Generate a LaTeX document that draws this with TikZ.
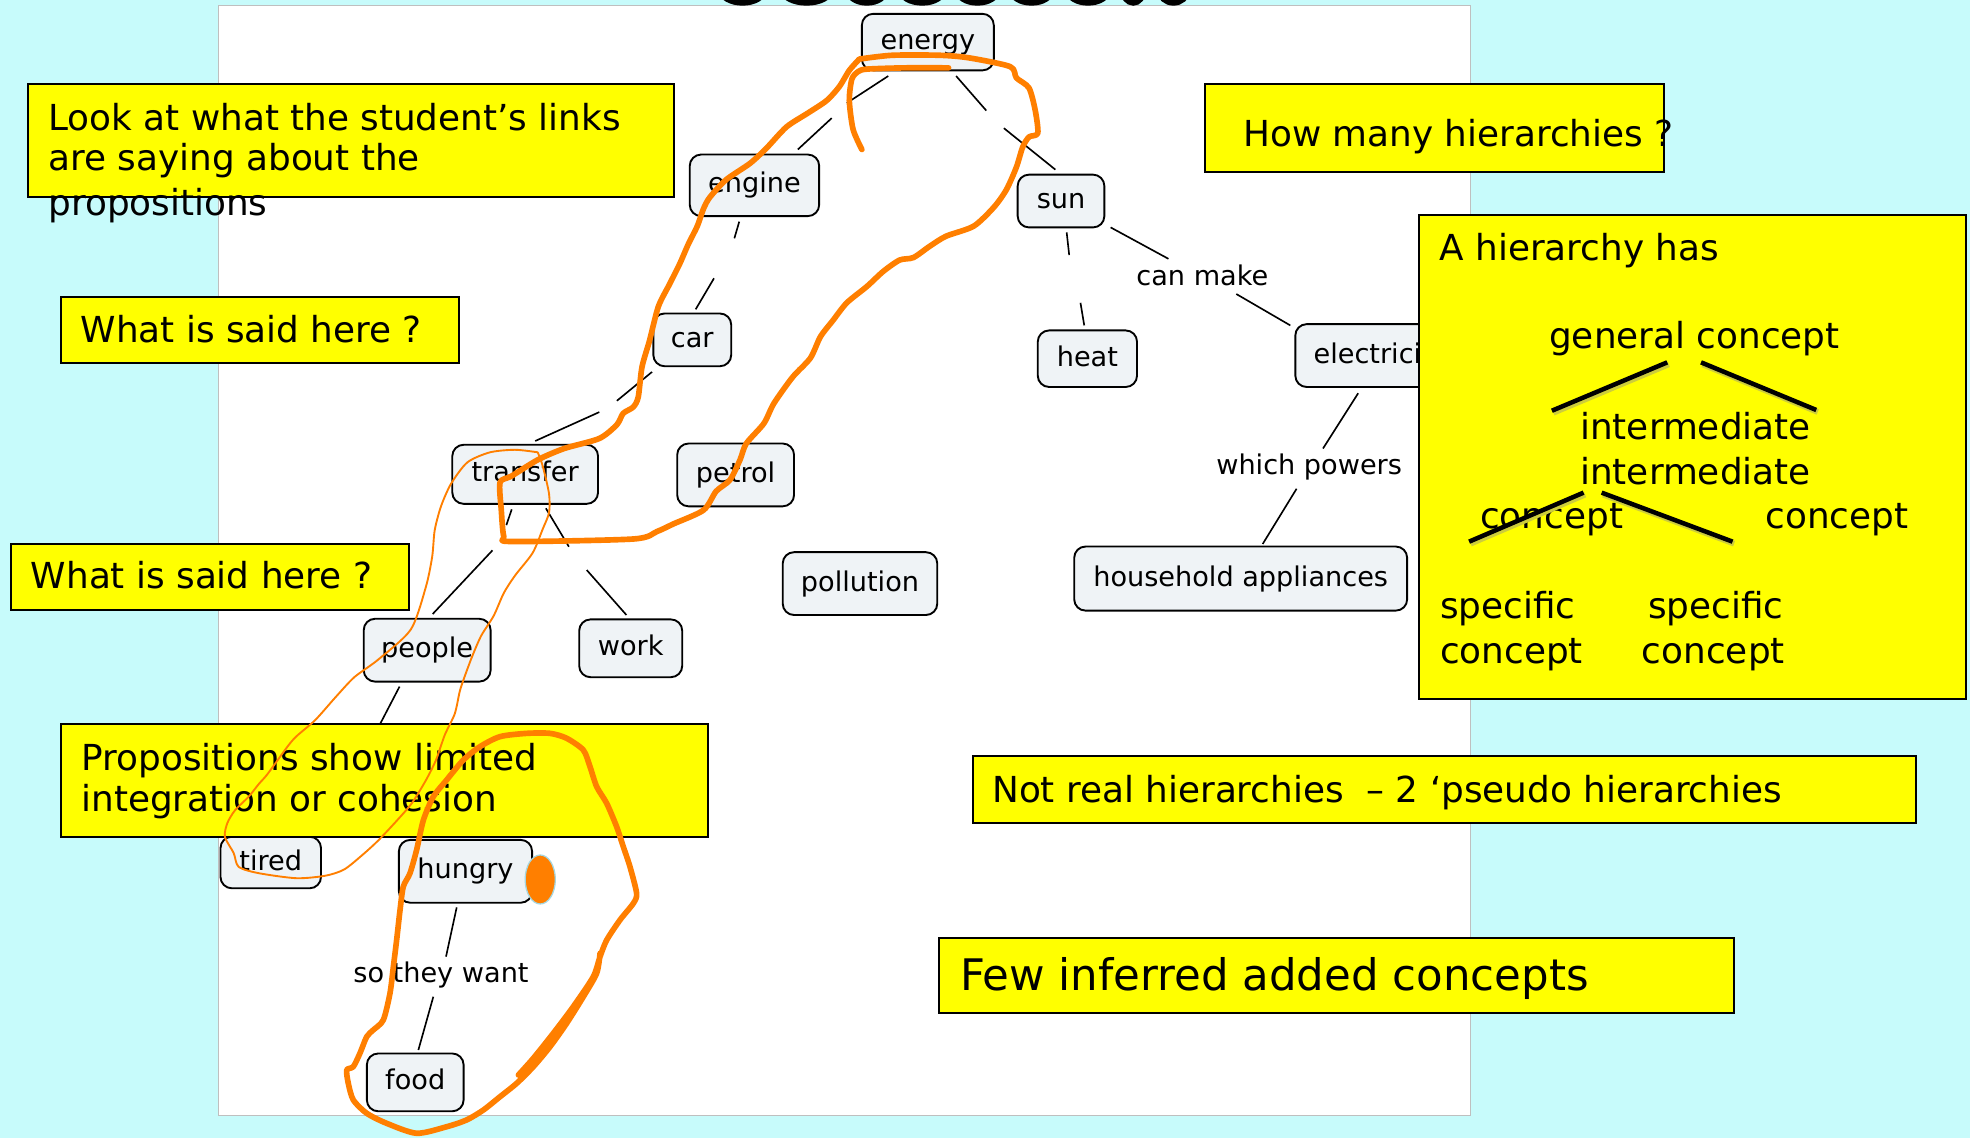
\documentclass[tikz,border=0pt]{standalone}
\usepackage{fontspec}
\setmainfont{DejaVu Sans}
\usetikzlibrary{calc}

\definecolor{sky}{RGB}{199,251,251}
\definecolor{conceptfill}{RGB}{239,243,246}
\definecolor{note}{RGB}{255,255,0}
\definecolor{pen}{RGB}{255,127,0}
\definecolor{dotrim}{RGB}{165,215,225}
\definecolor{shade}{RGB}{205,205,60}

\newcommand\conceptfont{\fontsize{21.6}{25}\selectfont}
\newcommand\notefont{\fontsize{28.5}{34}\selectfont}
\newcommand\bignotefont{\fontsize{34.6}{41}\selectfont}

\tikzset{
  concept/.style={draw=black, line width=1.5pt, fill=conceptfill, rounded corners=9pt,
    inner sep=0pt, font=\conceptfont, text height=14pt, text depth=2pt},
  linkword/.style={inner sep=0pt, font=\conceptfont, anchor=base},
  link/.style={draw=black, line width=1.3pt},
  notebox/.style={draw=black, line width=1.6pt, fill=note, inner sep=0pt, anchor=north west},
  notetext/.style={anchor=base west, inner sep=0pt, font=\notefont},
  treeline/.style={draw=black, line width=3.6pt},
  treeshade/.style={draw=shade, line width=4.6pt},
  penthick/.style={draw=pen, line width=4.5pt, line cap=round, line join=round},
  penthin/.style={draw=pen, line width=1.5pt, line cap=round, line join=round},
  titleink/.style={draw=black, line width=5pt},
}

\begin{document}
\begin{tikzpicture}[x=1pt,y=-1pt]
\useasboundingbox (0,0) rectangle (1568,906);

% slide background and the map sheet
\fill[sky] (0,0) rectangle (1568,906);
\fill[white] (174,4) rectangle (1170,887.5);
\draw[black!25, line width=0.6pt] (174,4) rectangle (1170,887.5);

% lower edge of the slide title, cut off above the sheet
\begin{scope}
  \clip (560,0) rectangle (950,4);
  \foreach \cx/\rx in {591/17, 642/19, 690/15, 734/17, 778/16, 821/16, 866/16, 902/8, 934/11}
    \draw[titleink] (\cx,-8) ellipse [x radius=\rx, y radius=10];
\end{scope}

% concepts
\node[concept, minimum width=105pt, minimum height=45pt] (energy)      at (738.5,33.5)  {energy};
\node[concept, minimum width=103pt, minimum height=49pt] (engine)      at (600.5,147.5) {engine};
\node[concept, minimum width=69pt,  minimum height=42pt] (sun)         at (844.5,160)   {sun};
\node[concept, minimum width=62pt,  minimum height=42pt] (car)         at (551,270.5)   {car};
\node[concept, minimum width=79pt,  minimum height=45pt] (heat)        at (865.5,285.5) {heat};
\node[concept, minimum width=136pt, minimum height=50pt] (electricity) at (1099,283)    {electricity};
\node[concept, minimum width=116pt, minimum height=47pt] (transfer)    at (418,377.5)   {transfer};
\node[concept, minimum width=93pt,  minimum height=50pt] (petrol)      at (585.5,378)   {petrol};
\node[concept, minimum width=123pt, minimum height=50pt] (pollution)   at (684.5,464.5) {pollution};
\node[concept, minimum width=265pt, minimum height=51pt] (household)   at (987.5,460.5) {household appliances};
\node[concept, minimum width=101pt, minimum height=50pt] (people)      at (340,517.5)   {people};
\node[concept, minimum width=82pt,  minimum height=46pt] (work)        at (502,516)     {work};
\node[concept, minimum width=80pt,  minimum height=41pt] (tired)       at (215.5,686.5) {tired};
\node[concept, minimum width=106pt, minimum height=50pt] (hungry)      at (370.5,693.5) {hungry};
\node[concept, minimum width=77pt,  minimum height=46pt] (food)        at (330.5,861.5) {food};

% linking phrases
\node[linkword] (canmake)     at (957,227.6)  {can make};
\node[linkword] (whichpowers) at (1042,377.3) {which powers};
\node[linkword] (sothey)      at (351,782.1)  {so they want};

% empty linking phrases
\coordinate (g1)  at (668,88);
\coordinate (g2)  at (792,95);
\coordinate (g3)  at (576,206);
\coordinate (g4)  at (484,323.5);
\coordinate (g5)  at (398,428);
\coordinate (g6)  at (460,444.5);
\coordinate (g7)  at (855.5,222);
\coordinate (g10) at (285,610);

% links
\draw[link] ($(energy)+(-31.5,27)$) -- ($(g1)+(6,-6)$);
\draw[link] ($(g1)+(-6,6)$) -- ($(engine)+(34.5,-28.5)$);
\draw[link] ($(energy)+(22.5,27)$) -- ($(g2)+(-7,-7)$);
\draw[link] ($(g2)+(7,7)$) -- ($(sun)+(-4.5,-25)$);
\draw[link] ($(engine)+(-12.1,28.9)$) -- ($(g3)+(8.5,-16.3)$);
\draw[link] ($(g3)+(-7.7,15.5)$) -- ($(car)+(2.7,-24.3)$);
\draw[link] ($(car)+(-32,25.5)$) -- ($(g4)+(7,-4.5)$);
\draw[link] ($(g4)+(-7,4.5)$) -- ($(transfer)+(8,-26.5)$);
\draw[link] ($(transfer)+(-10.7,27.9)$) -- ($(g5)+(5,-10)$);
\draw[link] ($(g5)+(-6,10)$) -- ($(people)+(4.4,-28.8)$);
\draw[link] ($(transfer)+(16.5,27.1)$) -- ($(g6)+(-7.2,-9.4)$);
\draw[link] ($(g6)+(7,9.2)$) -- ($(work)+(-3.4,-26.5)$);
\draw[link] ($(sun)+(4.5,25)$) -- ($(g7)+(-4.5,-19)$);
\draw[link] ($(g7)+(4.5,19)$) -- ($(heat)+(-2.5,-26.5)$);
\draw[link] ($(sun)+(39.5,21)$) -- ($(canmake.base)+(-27,-21.6)$);
\draw[link] ($(canmake.base)+(27,6.4)$) -- ($(electricity)+(-72,-24)$);
\draw[link] ($(electricity)+(-18,30)$) -- ($(whichpowers.base)+(11,-20.3)$);
\draw[link] ($(whichpowers.base)+(-10,11.7)$) -- ($(household)+(17.5,-27.5)$);
\draw[link] ($(people)+(-22,29)$) -- (g10);
\draw[link] ($(hungry)+(-7,28.7)$) -- ($(sothey.base)+(4,-20.7)$);
\draw[link] ($(sothey.base)+(-6.1,11.2)$) -- ($(food)+(2.5,-25.8)$);

% yellow notes
\node[notebox, minimum width=514.5pt, minimum height=89.9pt] (noteA) at (21.3,65.8) {};
\node[notetext] at (38.4,103.5) {Look at what the student’s links};
\node[notetext] at (38.4,135.8) {are saying about the};
\node[notetext] at (38.4,171.9) {propositions};

\node[notebox, minimum width=366.1pt, minimum height=70pt] (noteB) at (957.9,65.8) {};
\node[notetext] at (989.3,116.7) {How many hierarchies ?};

\node[notebox, minimum width=316.2pt, minimum height=53.1pt] (noteC) at (48,235.3) {};
\node[notetext] at (64,272.7) {What is said here ?};

\node[notebox, minimum width=316.8pt, minimum height=52.8pt] (noteD) at (8.1,431.9) {};
\node[notetext] at (24.4,468.3) {What is said here ?};

\node[notebox, minimum width=514.9pt, minimum height=89.9pt] (noteE) at (47.6,575.2) {};
\node[notetext] at (64.7,612.9) {Propositions show limited};
\node[notetext] at (64.7,646) {integration or cohesion};

\node[notebox, minimum width=751.1pt, minimum height=53.5pt] (noteG) at (773.4,601) {};
\node[notetext] at (789.6,638.9) {Not real hierarchies\ \ – 2 ‘pseudo hierarchies};

\node[notebox, minimum width=632.8pt, minimum height=59.7pt] (noteH) at (746.2,745.5) {};
\node[notetext, font=\bignotefont] at (764,788.5) {Few inferred added concepts};

% hierarchy explanation
\node[notebox, minimum width=435.4pt, minimum height=385.5pt] (noteF) at (1128.8,170.3) {};
\node[notetext] at (1145.6,207.7) {A hierarchy has};
\node[notetext] at (1232.9,277.3) {general concept};
\node[notetext] at (1257.6,349.7) {intermediate};
\node[notetext] at (1257.6,385.5) {intermediate};
\node[notetext] at (1178,420.5) {concept};
\node[notetext] at (1405,420.5) {concept};
\node[notetext] at (1146,492.2) {specific};
\node[notetext] at (1146,528) {concept};
\node[notetext] at (1311.6,492.2) {specific};
\node[notetext] at (1306.7,528) {concept};
\begin{scope}[shift={(1.2,1.6)}]
  \draw[treeshade] (1235.2,326.9) -- (1327,288.4);
  \draw[treeshade] (1353.9,288.4) -- (1445.6,326.3);
  \draw[treeshade] (1169.3,431.1) -- (1260.4,392.1);
  \draw[treeshade] (1274.8,392.1) -- (1379,431.1);
\end{scope}
\draw[treeline] (1235.2,326.9) -- (1327,288.4);
\draw[treeline] (1353.9,288.4) -- (1445.6,326.3);
\draw[treeline] (1169.3,431.1) -- (1260.4,392.1);
\draw[treeline] (1274.8,392.1) -- (1379,431.1);

% hand-drawn pen marks
\draw[penthick] plot[smooth, tension=0.45] coordinates {
  (755,54) (720,54) (690,55) (683,57) (678,63) (676,80) (679,103) (686,119)};
\draw[penthick] plot[smooth, tension=0.45] coordinates {
  (684,47) (710,44) (748,44) (771,46) (804,53) (809,62) (819,70) (824,88) (826,106)
  (819,109) (814,117) (809,133) (801,151) (791,165) (775,180) (753,188) (740,196)
  (727,205) (716,207) (703,216) (690,228) (674,241) (663,255) (653,268) (645,285)
  (631,300) (616,321) (608,337) (594,353) (589,366) (581,382) (570,391) (560,406)
  (536,417) (523,423) (504,429) (407,431) (401,427) (399,406) (398,384) (407,379)
  (428,366) (449,357) (477,349) (491,338) (496,329) (504,324) (508,316) (511,292)
  (517,271) (524,244) (533,226) (541,210) (548,194) (555,180) (560,166) (565,157)
  (578,143) (597,130) (610,118) (626,101) (643,90) (658,80) (668,69) (676,56) (684,47)};
\draw[penthin] plot[smooth, tension=0.45] coordinates {
  (428,360) (432,371) (437,393) (437,408) (432,421) (424,440) (410,458) (401,472)
  (393,490) (383,506) (376,522) (370,538) (366,550) (362,568) (354,585) (347,605)
  (339,621) (328,639) (316,653) (301,669) (289,680) (274,692) (259,697) (236,699)
  (206,695) (190,690) (186,679) (179,666) (181,655) (187,645) (198,634) (206,624)
  (213,616) (229,594) (236,586) (251,573) (267,555) (282,539) (301,525) (327,501)
  (339,467) (344,443) (346,422) (351,403) (359,385) (372,368) (390,360) (410,358)
  (428,360)};
\draw[penthick] plot[smooth, tension=0.45] coordinates {
  (412.6,855.6) (424.5,842.3) (440.4,822.4) (456.3,801.2) (472.2,777.4) (477.6,761.4)
  (482.9,748.2) (493.5,732.2) (504.1,719) (506.7,711) (501.4,689.8) (496.1,673.9)
  (490.8,658) (482.9,639.4) (474.9,626.1) (469.6,610.2) (464.3,597) (451,587.6)
  (437.8,583.7) (419.2,583.7) (398,586.3) (382,594.3) (368.8,604.9) (355.5,620.8)
  (344.9,634.1) (337,652.7) (331.6,676.5) (326.3,695.1) (321,705.7) (318.4,724.3)
  (315.7,748.2) (313.1,769.4) (310.4,790.6) (305.1,811.8) (297.1,819.8) (291.9,825.1)
  (286.5,838.3) (281.2,849) (276,851.6) (277.2,862.2) (281.2,875.5) (291.9,886.1)
  (307.8,894.1) (331.6,902) (355.5,896.8) (371.4,891.4) (384.7,883.5) (398,872.9)
  (411.3,862.2) (424.5,849) (437.8,833.1) (451,814.5) (464.3,793.3) (474.9,774.7)
  (477.6,758.8)};
\draw[dotrim, line width=1pt, fill=pen] (430,700) ellipse [x radius=12, y radius=19.5];

\end{tikzpicture}
\end{document}
